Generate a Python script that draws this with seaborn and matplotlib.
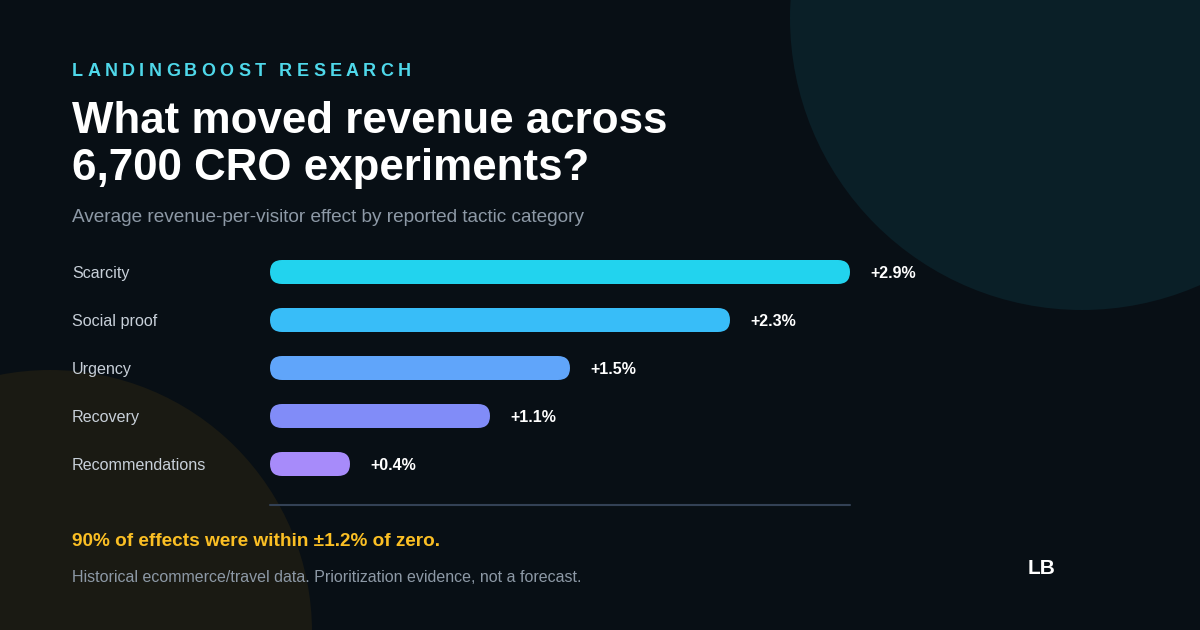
import numpy as np
import matplotlib.pyplot as plt
import seaborn as sns
from matplotlib.patches import Circle, FancyBboxPatch

# data
tactics = ["Scarcity", "Social proof", "Urgency", "Recovery", "Recommendations"]
effect_pct = [2.9, 2.3, 1.5, 1.1, 0.4]
bar_colors = ["#22d3ee", "#38bdf8", "#60a5fa", "#818cf8", "#a78bfa"]

W, H = 1200, 630
BG = "#080f15"

sns.set_theme(style="white")
plt.rcParams['font.family'] = ['Liberation Sans', 'DejaVu Sans']

fig = plt.figure(figsize=(W / 100, H / 100), dpi=100, facecolor=BG)

# background layer in pixel coords
bg = fig.add_axes([0, 0, 1, 1], zorder=0)
bg.set_xlim(0, W)
bg.set_ylim(H, 0)
bg.axis("off")
bg.set_facecolor(BG)
bg.add_patch(Circle((1082, 18), 292, color="#0a1f27", lw=0))
bg.add_patch(Circle((50, 632), 262, color="#1a1a13", lw=0))


def spaced(ax, x, y, s, spacing, **kw):
    # crude letter spacing, char by char
    r = fig.canvas.get_renderer()
    for ch in s:
        t = ax.text(x, y, ch, **kw)
        w = t.get_window_extent(renderer=r).width
        x += w + spacing


spaced(bg, 72, 71, "LANDINGBOOST RESEARCH", 4.3, color="#4fd8ea",
       fontsize=13, fontweight="bold", va="center")
bg.text(72, 133, "What moved revenue across", color="white", fontsize=31.6,
        fontweight="bold", va="baseline")
bg.text(72, 180, "6,700 CRO experiments?", color="white", fontsize=31.6,
        fontweight="bold", va="baseline")
bg.text(72, 217, "Average revenue-per-visitor effect by reported tactic category",
        color="#8d99a6", fontsize=13.7, va="center")

bg.plot([270, 850], [505, 505], color="#334155", lw=1.5)
bg.text(72, 542, "90% of effects were within \u00b11.2% of zero.",
        color="#fbbf24", fontsize=13.7, fontweight="bold", va="center")
bg.text(72, 577, "Historical ecommerce/travel data. Prioritization evidence, not a forecast.",
        color="#8d99a6", fontsize=11.5, va="center")
bg.text(1028, 568, "LB", color="white", fontsize=15, fontweight="bold", va="center")

# chart axes: x from 270px to 850px, rows of 48px starting at 248px
ax = fig.add_axes([270 / W, 1 - 488 / H, 580 / W, 240 / H], zorder=2)
ax.patch.set_alpha(0)
sns.barplot(x=effect_pct, y=tactics, hue=tactics, palette=bar_colors,
            orient="h", width=0.5, saturation=1, legend=False, ax=ax)
ax.set_xlim(0, 2.9)
ax.set_ylim(4.5, -0.5)

# rounded pills replacing the square bars
px_x = 2.9 / 580
px_y = 5 / 240
for p in list(ax.patches):
    x0, y0 = p.get_x(), p.get_y()
    w, h = p.get_width(), p.get_height()
    if not np.isfinite(w) or w == 0:
        continue
    pill = FancyBboxPatch((x0, y0), w, h,
                          boxstyle=f"round,pad=0,rounding_size={12 * px_x}",
                          mutation_aspect=px_y / px_x,
                          fc=p.get_facecolor(), ec="none", lw=0, clip_on=False)
    ax.add_patch(pill)
    p.set_visible(False)
    ax.annotate(f"+{w:.1f}%", (x0 + w, y0 + h / 2), xytext=(14.4, -1),
                textcoords="offset points", ha="left", va="center",
                color="white", fontsize=11.5, fontweight="bold",
                annotation_clip=False)

ax.tick_params(axis="y", length=0, pad=198 * 0.72, labelsize=11.6, labelcolor="#c8d0d9")
for lbl in ax.get_yticklabels():
    lbl.set_ha("left")
ax.set_xticks([])
ax.set_xlabel("")
ax.set_ylabel("")
sns.despine(ax=ax, left=True, bottom=True)

fig.savefig("out.png", dpi=100, facecolor=BG)
